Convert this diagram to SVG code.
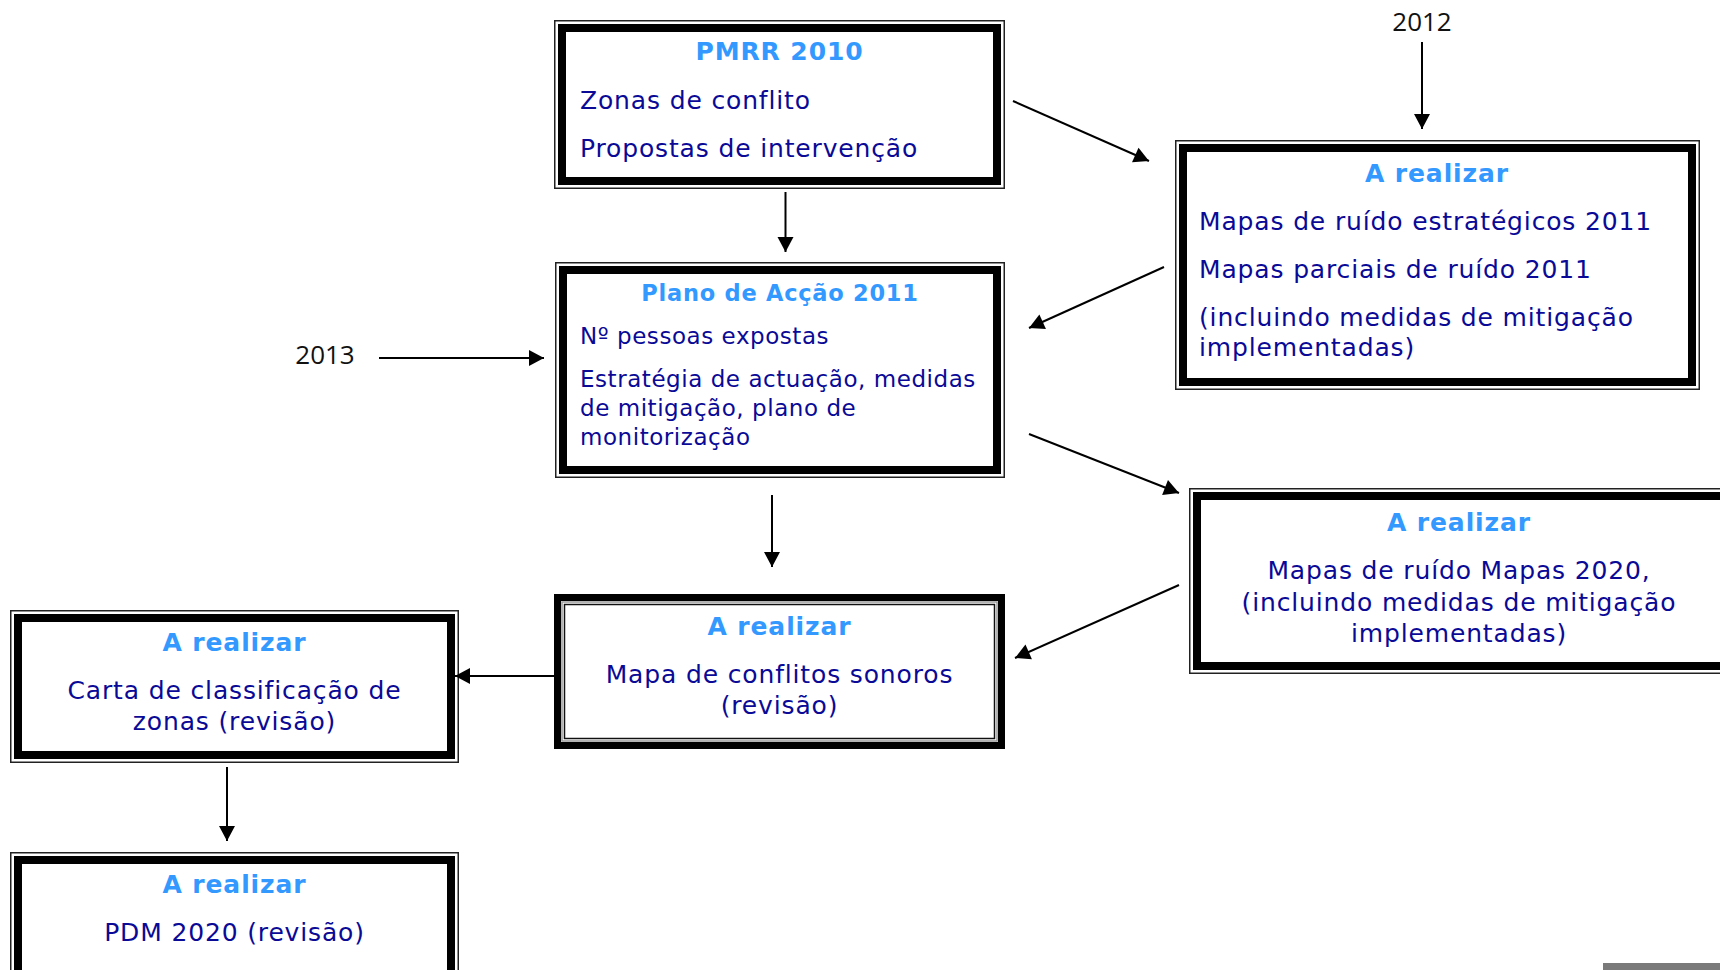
<svg xmlns="http://www.w3.org/2000/svg" width="1720" height="970" viewBox="0 0 1720 970">
<style>
.h{font-family:"DejaVu Sans",Verdana,sans-serif;font-weight:bold;font-size:25px;fill:#3399ff;letter-spacing:0.9px}
.t{font-family:"DejaVu Sans",Verdana,sans-serif;font-size:25px;fill:#0a0a96;letter-spacing:0.85px}
.s{font-size:23px;letter-spacing:0.55px}
.hs{font-size:22.5px;letter-spacing:0.75px}
.c{text-anchor:middle}
.yr{font-family:"Open Sans",sans-serif;font-size:26px;fill:#111;text-anchor:middle}
.o{fill:#fff;stroke:#222;stroke-width:1.5}
.k{fill:none;stroke:#000;stroke-width:8}
.ln{stroke:#000;stroke-width:2;fill:none;marker-end:url(#ah)}
</style>
<defs>
<marker id="ah" markerUnits="userSpaceOnUse" markerWidth="16" markerHeight="16" refX="15" refY="8" orient="auto" overflow="visible">
<path d="M0,0 L15,8 L0,16 z" fill="#000"/>
</marker>
</defs>
<rect width="1720" height="970" fill="#fff"/>

<g id="pmrr">
<rect class="o" x="554.75" y="20.75" width="449.5" height="167.5"/>
<rect class="k" x="562" y="28" width="435" height="153"/>
<text class="h c" x="779.5" y="60">PMRR 2010</text>
<text class="t" x="580" y="109">Zonas de conflito</text>
<text class="t" x="580" y="157">Propostas de intervenção</text>
</g>

<g id="plano">
<rect class="o" x="555.75" y="262.75" width="448.5" height="214.5"/>
<rect class="k" x="563" y="270" width="434" height="200"/>
<text class="h hs c" x="780" y="301">Plano de Acção 2011</text>
<text class="t s" x="580" y="344">Nº pessoas expostas</text>
<text class="t s" x="580" y="387">Estratégia de actuação, medidas</text>
<text class="t s" x="580" y="416">de mitigação, plano de</text>
<text class="t s" x="580" y="445">monitorização</text>
</g>

<g id="realizar-2011">
<rect class="o" x="1175.75" y="140.75" width="523.5" height="248.5"/>
<rect class="k" x="1183" y="148" width="509" height="234"/>
<text class="h c" x="1437" y="182">A realizar</text>
<text class="t" x="1199" y="230">Mapas de ruído estratégicos 2011</text>
<text class="t" x="1199" y="278">Mapas parciais de ruído 2011</text>
<text class="t" x="1199" y="326">(incluindo medidas de mitigação</text>
<text class="t" x="1199" y="356">implementadas)</text>
</g>

<g id="realizar-2020">
<rect class="o" x="1189.75" y="488.75" width="540" height="184.5"/>
<rect class="k" x="1197" y="496" width="530" height="170"/>
<text class="h c" x="1459" y="531">A realizar</text>
<text class="t c" x="1459" y="579">Mapas de ruído Mapas 2020,</text>
<text class="t c" x="1459" y="611">(incluindo medidas de mitigação</text>
<text class="t c" x="1459" y="642">implementadas)</text>
</g>

<g id="mapa-conflitos">
<rect x="557.5" y="597.5" width="444" height="148" fill="#fff" stroke="#000" stroke-width="7"/>
<rect x="562" y="602" width="435" height="139" fill="none" stroke="#999" stroke-width="1.5"/>
<rect x="564.5" y="604.5" width="430" height="134" fill="none" stroke="#111" stroke-width="1.5"/>
<text class="h c" x="779.5" y="635">A realizar</text>
<text class="t c" x="779.5" y="683">Mapa de conflitos sonoros</text>
<text class="t c" x="779.5" y="714">(revisão)</text>
</g>

<g id="carta">
<rect class="o" x="10.75" y="610.75" width="447.5" height="151.5"/>
<rect class="k" x="18" y="618" width="433" height="137"/>
<text class="h c" x="234.5" y="651">A realizar</text>
<text class="t c" x="234.5" y="699">Carta de classificação de</text>
<text class="t c" x="234.5" y="730">zonas (revisão)</text>
</g>

<g id="pdm">
<rect class="o" x="10.75" y="852.75" width="447.5" height="160"/>
<rect class="k" x="18" y="860" width="433" height="160"/>
<text class="h c" x="234.5" y="893">A realizar</text>
<text class="t c" x="234.5" y="941">PDM 2020 (revisão)</text>
</g>

<g id="labels">
<text class="yr" x="1422" y="31">2012</text>
<text class="yr" x="325" y="364">2013</text>
</g>

<g id="connectors">
<line class="ln" x1="785.5" y1="192" x2="785.5" y2="252"/>
<line class="ln" x1="1422" y1="42" x2="1422" y2="129"/>
<line class="ln" x1="1013" y1="101" x2="1149" y2="161"/>
<line class="ln" x1="1164" y1="267" x2="1029" y2="328"/>
<line class="ln" x1="379" y1="358" x2="544" y2="358"/>
<line class="ln" x1="1029" y1="434" x2="1179" y2="493"/>
<line class="ln" x1="772" y1="495" x2="772" y2="567"/>
<line class="ln" x1="1179" y1="585" x2="1015" y2="658"/>
<line class="ln" x1="555" y1="676" x2="455" y2="676"/>
<line class="ln" x1="227" y1="767" x2="227" y2="841"/>
</g>

<rect x="1603" y="963" width="117" height="7" fill="#7a7a7a"/>
</svg>
